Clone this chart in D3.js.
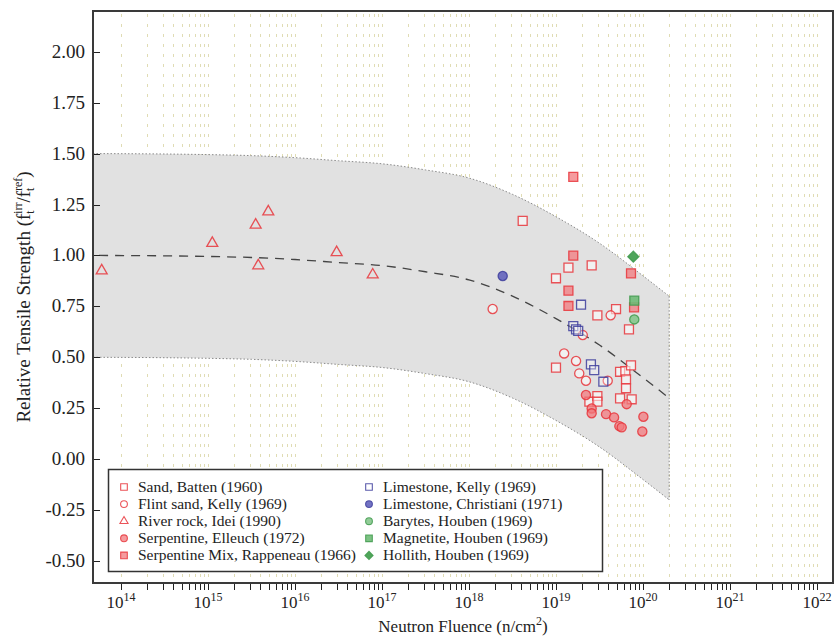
<!DOCTYPE html>
<meta charset="utf-8">
<head>
<style>
  body { margin: 0; background: #fff; }
  svg text { font-family: "Liberation Serif", "DejaVu Serif", serif; fill: #222; }
</style>
</head>
<body>
<script src="https://d3js.org/d3.v7.min.js"></script>
<script>

// ---- data: [fluence n/cm2, relative tensile strength] ----
var sandBatten = [
  [4.14e18, 1.170], [1.39e19, 0.940], [2.57e19, 0.951], [1.00e19, 0.888],
  [2.99e19, 0.706], [4.90e19, 0.737], [6.90e19, 0.637], [5.45e19, 0.429],
  [6.27e19, 0.432], [7.28e19, 0.460], [6.38e19, 0.392], [6.38e19, 0.348],
  [5.45e19, 0.298], [7.41e19, 0.294], [2.42e19, 0.282], [2.99e19, 0.310],
  [2.99e19, 0.282], [1.00e19, 0.449]
];
var flintKelly = [
  [1.87e18, 0.737], [1.24e19, 0.519], [1.70e19, 0.482], [1.85e19, 0.421],
  [2.21e19, 0.385], [2.03e19, 0.609], [3.93e19, 0.385], [4.25e19, 0.706]
];
var riverIdei = [
  [6.0e13, 0.925], [1.12e15, 1.060], [3.53e15, 1.150], [3.78e15, 0.950],
  [4.93e15, 1.215], [3.01e16, 1.015], [7.82e16, 0.905]
];
var serpElleuch = [
  [2.21e19, 0.315], [2.57e19, 0.249], [2.57e19, 0.225], [3.76e19, 0.221],
  [4.65e19, 0.205], [5.35e19, 0.162], [5.69e19, 0.156], [6.49e19, 0.270],
  [1.01e20, 0.208], [9.82e19, 0.136]
];
var serpMixRappeneau = [
  [1.58e19, 1.386], [1.58e19, 0.999], [1.39e19, 0.827], [1.39e19, 0.752],
  [7.28e19, 0.912], [7.89e19, 0.745]
];
var limeKelly = [
  [1.94e19, 0.758], [1.58e19, 0.653], [1.70e19, 0.637], [1.80e19, 0.630],
  [2.52e19, 0.465], [2.75e19, 0.437], [3.50e19, 0.380]
];
var limeChristiani = [[2.44e18, 0.899]];
var barytesHouben = [[7.94e19, 0.686]];
var magnetiteHouben = [[7.94e19, 0.778]];
var hollithHouben = [[7.74e19, 0.994]];

// dashed trend curve and grey band
var curveFluence = [4.8e13, 3.16e14, 1e15, 3.16e15, 1e16, 3.16e16, 1e17, 3.16e17, 1e18, 3.16e18, 1e19, 3.16e19, 1e20, 2e20];
var curveValue   = [1.00, 0.998, 0.995, 0.99, 0.98, 0.965, 0.95, 0.92, 0.88, 0.80, 0.69, 0.56, 0.40, 0.30];
var bandUpper    = [1.50, 1.498, 1.495, 1.49, 1.48, 1.465, 1.45, 1.42, 1.38, 1.30, 1.19, 1.06, 0.90, 0.80];
var bandLower    = [0.50, 0.498, 0.495, 0.49, 0.48, 0.465, 0.45, 0.42, 0.38, 0.30, 0.19, 0.06, -0.10, -0.20];

var yTicks = [-0.5, -0.25, 0, 0.25, 0.5, 0.75, 1.0, 1.25, 1.5, 1.75, 2.0];
var xLabelExps = [14, 15, 16, 17, 18, 19, 20, 21, 22];

// ---- layout ----
var W = 839, H = 637;
var L = 93, R = 833, T = 11, B = 583;
var SERIF = "'Liberation Serif', 'DejaVu Serif', serif";

var svg = d3.select("body").append("svg")
    .attr("width", W)
    .attr("height", H)
    .attr("font-family", SERIF);

var x = d3.scaleLog().domain([Math.pow(10, 13.678), Math.pow(10, 22.184)]).range([L, R]);
var y = d3.scaleLinear().domain([-0.608, 2.2]).range([B, T]);

// all 1..9 x 10^n positions from 1e14 to 1e22
var minorTicks = x.ticks(20).filter(function(d) { return d >= 0.999e14 && d <= 1.001e22; });

// grid (dotted khaki verticals)
svg.append("g").selectAll("line")
    .data(minorTicks)
  .enter().append("line")
    .attr("x1", function(d) { return Math.round(x(d)) + 0.5; })
    .attr("x2", function(d) { return Math.round(x(d)) + 0.5; })
    .attr("y1", T + 3)
    .attr("y2", B)
    .style("stroke", "#e0dcb4")
    .style("stroke-width", 1)
    .style("stroke-dasharray", "3,7");

// band
var bandPts = curveFluence.map(function(f, i) { return {f: f, hi: bandUpper[i], lo: bandLower[i], c: curveValue[i]}; });
bandPts[0].f = x.domain()[0];

var area = d3.area()
    .x(function(d) { return x(d.f); })
    .y0(function(d) { return y(d.lo); })
    .y1(function(d) { return y(d.hi); })
    .curve(d3.curveMonotoneX);

svg.append("path")
    .datum(bandPts)
    .attr("d", area)
    .style("fill", "#e1e1e1");

var edgeStyle = function(sel) {
  sel.style("fill", "none").style("stroke", "#8a8a8a").style("stroke-width", 1).style("stroke-dasharray", "1.5,2");
};
svg.append("path")
    .datum(bandPts)
    .attr("d", d3.line().x(function(d) { return x(d.f); }).y(function(d) { return y(d.hi); }).curve(d3.curveMonotoneX))
    .call(edgeStyle);
svg.append("path")
    .datum(bandPts)
    .attr("d", d3.line().x(function(d) { return x(d.f); }).y(function(d) { return y(d.lo); }).curve(d3.curveMonotoneX))
    .call(edgeStyle);
var lastPt = bandPts[bandPts.length - 1];
svg.append("line")
    .attr("x1", x(lastPt.f)).attr("x2", x(lastPt.f))
    .attr("y1", y(lastPt.hi)).attr("y2", y(lastPt.lo))
    .call(edgeStyle);

// dashed trend
svg.append("path")
    .datum(bandPts.map(function(d, i) { return i == 0 ? {f: 5.6e13, c: d.c} : d; }))
    .attr("d", d3.line().x(function(d) { return x(d.f); }).y(function(d) { return y(d.c); }).curve(d3.curveMonotoneX))
    .style("fill", "none")
    .style("stroke", "#444")
    .style("stroke-width", 1.3)
    .style("stroke-dasharray", "9,7");

// series styling
var RED = "#e8353b", BLUE = "#3d3d9c", GREEN = "#3f9a4c";
var series = [
  {name: "Sand, Batten (1960)", data: sandBatten, sym: d3.symbolSquare, size: 80, stroke: RED, fill: "#fff", fo: 0.55},
  {name: "Flint sand, Kelly (1969)", data: flintKelly, sym: d3.symbolCircle, size: 66, stroke: RED, fill: "#fff", fo: 0.55},
  {name: "River rock, Idei (1990)", data: riverIdei, sym: d3.symbolTriangle, size: 52, stroke: RED, fill: "#fff", fo: 0.0},
  {name: "Serpentine, Elleuch (1972)", data: serpElleuch, sym: d3.symbolCircle, size: 66, stroke: RED, fill: "#f27a7e", fo: 0.75},
  {name: "Serpentine Mix, Rappeneau (1966)", data: serpMixRappeneau, sym: d3.symbolSquare, size: 80, stroke: RED, fill: "#f27a7e", fo: 0.75},
  {name: "Limestone, Kelly (1969)", data: limeKelly, sym: d3.symbolSquare, size: 80, stroke: BLUE, fill: "#fff", fo: 0.3},
  {name: "Limestone, Christiani (1971)", data: limeChristiani, sym: d3.symbolCircle, size: 66, stroke: BLUE, fill: "#6464bd", fo: 0.9},
  {name: "Barytes, Houben (1969)", data: barytesHouben, sym: d3.symbolCircle, size: 66, stroke: GREEN, fill: "#86c78d", fo: 0.9},
  {name: "Magnetite, Houben (1969)", data: magnetiteHouben, sym: d3.symbolSquare, size: 80, stroke: GREEN, fill: "#6fbb77", fo: 0.9},
  {name: "Hollith, Houben (1969)", data: hollithHouben, sym: d3.symbolSquare, size: 60, rot: 45, stroke: GREEN, fill: "#4fa55a", fo: 1}
];

series.forEach(function(s) {
  svg.append("g").selectAll("path")
      .data(s.data)
    .enter().append("path")
      .attr("transform", function(d) { return "translate(" + x(d[0]) + "," + y(d[1]) + ")" + (s.rot ? " rotate(" + s.rot + ")" : ""); })
      .attr("d", d3.symbol().type(s.sym).size(s.size))
      .style("fill", s.fill)
      .style("fill-opacity", s.fo)
      .style("stroke", s.stroke)
      .style("stroke-opacity", 0.85)
      .style("stroke-width", 1.3);
});

// legend
var leg = svg.append("g");
leg.append("rect")
    .attr("x", 108.5).attr("y", 469.5)
    .attr("width", 494).attr("height", 102)
    .style("fill", "#fff")
    .style("stroke", "#333")
    .style("stroke-width", 1.5);

series.forEach(function(s, i) {
  var col = Math.floor(i / 5), row = i % 5;
  var sx = col == 0 ? 124 : 369;
  var sy = 487 + row * 17.1;
  leg.append("path")
      .attr("transform", "translate(" + sx + "," + sy + ")" + (s.rot ? " rotate(" + s.rot + ")" : ""))
      .attr("d", d3.symbol().type(s.sym).size(s.size * 0.55))
      .style("fill", s.fill)
      .style("fill-opacity", s.fo)
      .style("stroke", s.stroke)
      .style("stroke-opacity", 0.85)
      .style("stroke-width", 1.1);
  leg.append("text")
      .attr("x", sx + 14)
      .attr("y", sy + 5)
      .attr("font-family", SERIF)
      .style("font-size", "15.5px")
      .text(s.name);
});

// x ticks
svg.append("g").selectAll("line")
    .data(minorTicks)
  .enter().append("line")
    .attr("x1", function(d) { return Math.round(x(d)) + 0.5; })
    .attr("x2", function(d) { return Math.round(x(d)) + 0.5; })
    .attr("y1", B)
    .attr("y2", B + 7)
    .style("stroke", "#222")
    .style("stroke-width", 1);

// x labels 10^n
var xl = svg.append("g").selectAll("text")
    .data(xLabelExps)
  .enter().append("text")
    .attr("x", function(d) { return x(Math.pow(10, d)); })
    .attr("y", 608)
    .attr("text-anchor", "middle")
    .attr("font-family", SERIF)
    .style("font-size", "17px");
xl.append("tspan").text("10");
xl.append("tspan")
    .attr("dy", -7)
    .style("font-size", "12px")
    .text(function(d) { return d; });

// y ticks + labels
svg.append("g").selectAll("line")
    .data(yTicks)
  .enter().append("line")
    .attr("x1", L)
    .attr("x2", L + 7)
    .attr("y1", function(d) { return Math.round(y(d)) + 0.5; })
    .attr("y2", function(d) { return Math.round(y(d)) + 0.5; })
    .style("stroke", "#222")
    .style("stroke-width", 1);

svg.append("g").selectAll("text")
    .data(yTicks)
  .enter().append("text")
    .attr("x", 85)
    .attr("y", function(d) { return y(d) + 6; })
    .attr("text-anchor", "end")
    .attr("font-family", SERIF)
    .style("font-size", "19px")
    .text(function(d) { return d3.format(".2f")(d).replace("\u2212", "-"); });

// frame
svg.append("rect")
    .attr("x", L).attr("y", T)
    .attr("width", R - L).attr("height", B - T)
    .style("fill", "none")
    .style("stroke", "#3a3a3a")
    .style("stroke-width", 2);

// axis titles
var xt = svg.append("text")
    .attr("x", (L + R) / 2)
    .attr("y", 632)
    .attr("text-anchor", "middle")
    .attr("font-family", SERIF)
    .style("font-size", "17px");
xt.append("tspan").text("Neutron Fluence (n/cm");
xt.append("tspan").attr("dy", -7).style("font-size", "12px").text("2");
xt.append("tspan").attr("dy", 7).text(")");

var yt = svg.append("text")
    .attr("transform", "translate(30," + ((T + B) / 2) + ") rotate(-90)")
    .attr("text-anchor", "middle")
    .attr("font-family", SERIF)
    .style("font-size", "19px");
yt.append("tspan").text("Relative Tensile Strength (f");
yt.append("tspan").attr("dy", 4).style("font-size", "12px").text("t");
yt.append("tspan").attr("dx", -3.5).attr("dy", -12).style("font-size", "12px").text("irr");
yt.append("tspan").attr("dy", 8).text("/f");
yt.append("tspan").attr("dy", 4).style("font-size", "12px").text("t");
yt.append("tspan").attr("dx", -3.5).attr("dy", -12).style("font-size", "12px").text("ref");
yt.append("tspan").attr("dy", 8).text(")");

</script>
</body>
